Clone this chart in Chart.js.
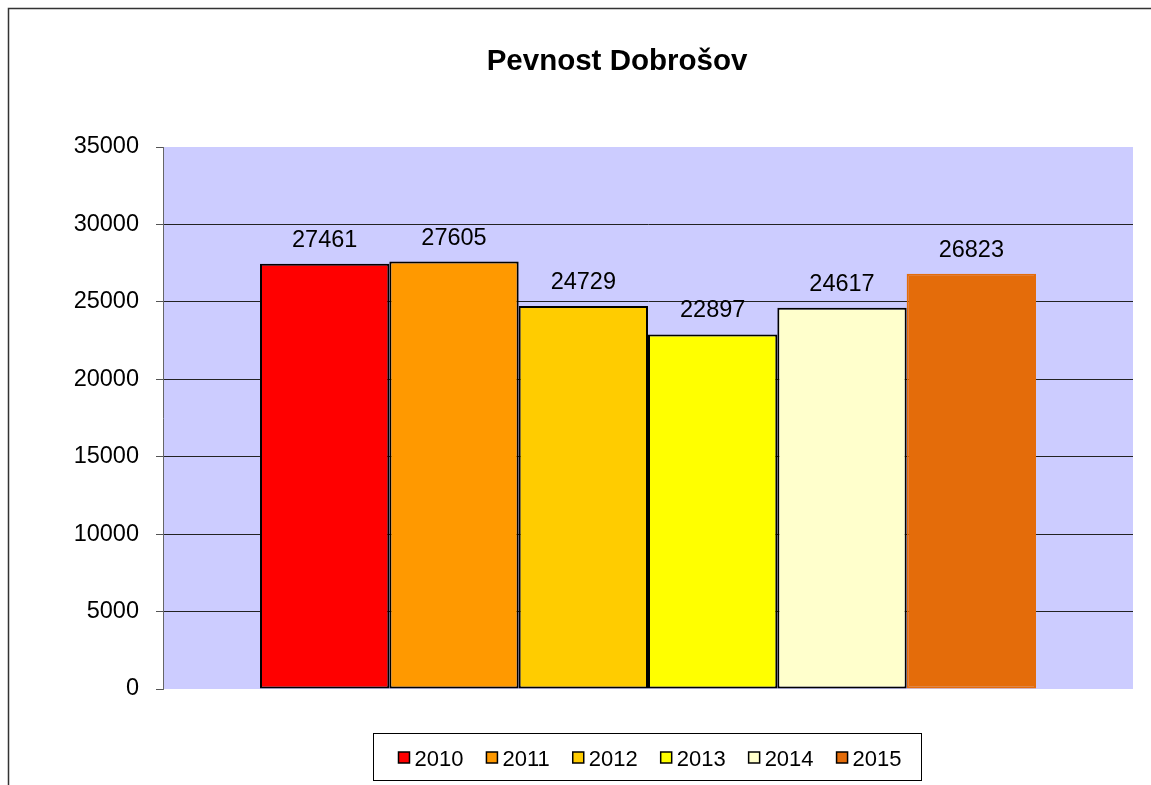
<!DOCTYPE html>
<html lang="cs">
  <head>
    <meta charset="UTF-8" />
    <title>Pevnost Dobrošov</title>
    <script src="https://cdn.jsdelivr.net/npm/chart.js"></script>
    <style>
      body {
        margin: 0;
        padding: 0;
        background: #fff;
      }
      #wrap {
        width: 1151px;
        height: 785px;
      }
    </style>
  </head>
  <body>
    <div id="wrap"><canvas id="chart1"></canvas></div>

    <script>
      const chartTitle = "Pevnost Dobrošov";
      const years = ["2010", "2011", "2012", "2013", "2014", "2015"];
      const visitors = [27461, 27605, 24729, 22897, 24617, 26823];
      const colors = ["#FF0000", "#FF9900", "#FFCC00", "#FFFF00", "#FFFFCC", "#E46C0A"];
      const borders = ["#000", "#000", "#000", "#000", "#000", "#E46C0A"];
      const yTicks = [0, 5000, 10000, 15000, 20000, 25000, 30000, 35000];

      const FONT = "Arial, 'Liberation Sans', sans-serif";

      const datasets = years.map((y, i) => ({
        label: y,
        data: [visitors[i]],
        backgroundColor: colors[i],
        borderColor: borders[i],
        borderWidth: 2,
        borderSkipped: false,
        categoryPercentage: 0.8,
        barPercentage: 1.0,
      }));

      // lavender plot area, outer frame and title
      const background = {
        id: "background",
        beforeDraw(chart) {
          const { ctx, chartArea } = chart;
          ctx.save();
          ctx.fillStyle = "#CCCCFF";
          ctx.fillRect(chartArea.left, chartArea.top, chartArea.right - chartArea.left, chartArea.bottom - chartArea.top);
          ctx.strokeStyle = "#333";
          ctx.lineWidth = 1.5;
          ctx.beginPath();
          ctx.moveTo(8.5, 785);
          ctx.lineTo(8.5, 8.5);
          ctx.lineTo(1151, 8.5);
          ctx.stroke();
          ctx.fillStyle = "#000";
          ctx.font = "bold 29.5px " + FONT;
          ctx.textAlign = "center";
          ctx.textBaseline = "alphabetic";
          ctx.fillText(chartTitle, 617, 70);
          ctx.restore();
        },
      };

      // value labels above bars
      const valueLabels = {
        id: "valueLabels",
        afterDatasetsDraw(chart) {
          const ctx = chart.ctx;
          ctx.save();
          ctx.font = "23.5px " + FONT;
          ctx.fillStyle = "#000";
          ctx.textAlign = "center";
          ctx.textBaseline = "alphabetic";
          chart.data.datasets.forEach((ds, i) => {
            const bar = chart.getDatasetMeta(i).data[0];
            ctx.fillText(String(ds.data[0]), bar.x, bar.y - 17);
          });
          ctx.restore();
        },
      };

      // boxed legend at the bottom, Excel style
      const boxLegend = {
        id: "boxLegend",
        afterDraw(chart) {
          const ctx = chart.ctx;
          const box = { left: 373, top: 733, right: 921, bottom: 780 };
          ctx.save();
          ctx.strokeStyle = "#000";
          ctx.lineWidth = 1;
          ctx.strokeRect(box.left + 0.5, box.top + 0.5, box.right - box.left, box.bottom - box.top);
          ctx.font = "22px " + FONT;
          ctx.textBaseline = "alphabetic";
          ctx.textAlign = "left";
          const mk = 11, gapIn = 5, gapOut = 23;
          const items = chart.data.datasets.map((ds) => ({
            ds,
            w: mk + gapIn + ctx.measureText(ds.label).width,
          }));
          const total = items.reduce((s, it) => s + it.w, 0) + gapOut * (items.length - 1);
          let x = 650 - total / 2;
          const cy = 757.5;
          items.forEach((it) => {
            ctx.fillStyle = it.ds.backgroundColor;
            ctx.fillRect(x, cy - mk / 2, mk, mk);
            ctx.strokeStyle = "#000";
            ctx.lineWidth = 1.5;
            ctx.strokeRect(x, cy - mk / 2, mk, mk);
            ctx.fillStyle = "#000";
            ctx.fillText(it.ds.label, x + mk + gapIn, 766);
            x += it.w + gapOut;
          });
          ctx.restore();
        },
      };

      new Chart(document.getElementById("chart1"), {
        type: "bar",
        data: { labels: [""], datasets: datasets },
        options: {
          responsive: true,
          maintainAspectRatio: false,
          animation: false,
          layout: { padding: { left: 0, right: 18, top: 147, bottom: 96 } },
          plugins: {
            legend: { display: false },
            tooltip: { enabled: false },
            title: { display: false },
          },
          scales: {
            x: { display: false },
            y: {
              min: 0,
              max: 35000,
              afterFit(scale) {
                scale.width = 163;
              },
              afterBuildTicks(scale) {
                scale.ticks = yTicks.map((v) => ({ value: v }));
              },
              ticks: {
                color: "#000",
                padding: 17,
                font: { family: FONT, size: 23.5 },
                callback: (v) => String(v),
              },
              grid: {
                color: (c) => (c.tick && (c.tick.value === 0 || c.tick.value === 35000) ? "rgba(0,0,0,0)" : "#222"),
                tickColor: "#555",
                tickLength: 7,
                lineWidth: 1,
              },
              border: { color: "#666", width: 1 },
            },
          },
        },
        plugins: [background, valueLabels, boxLegend],
      });
    </script>
  </body>
</html>
